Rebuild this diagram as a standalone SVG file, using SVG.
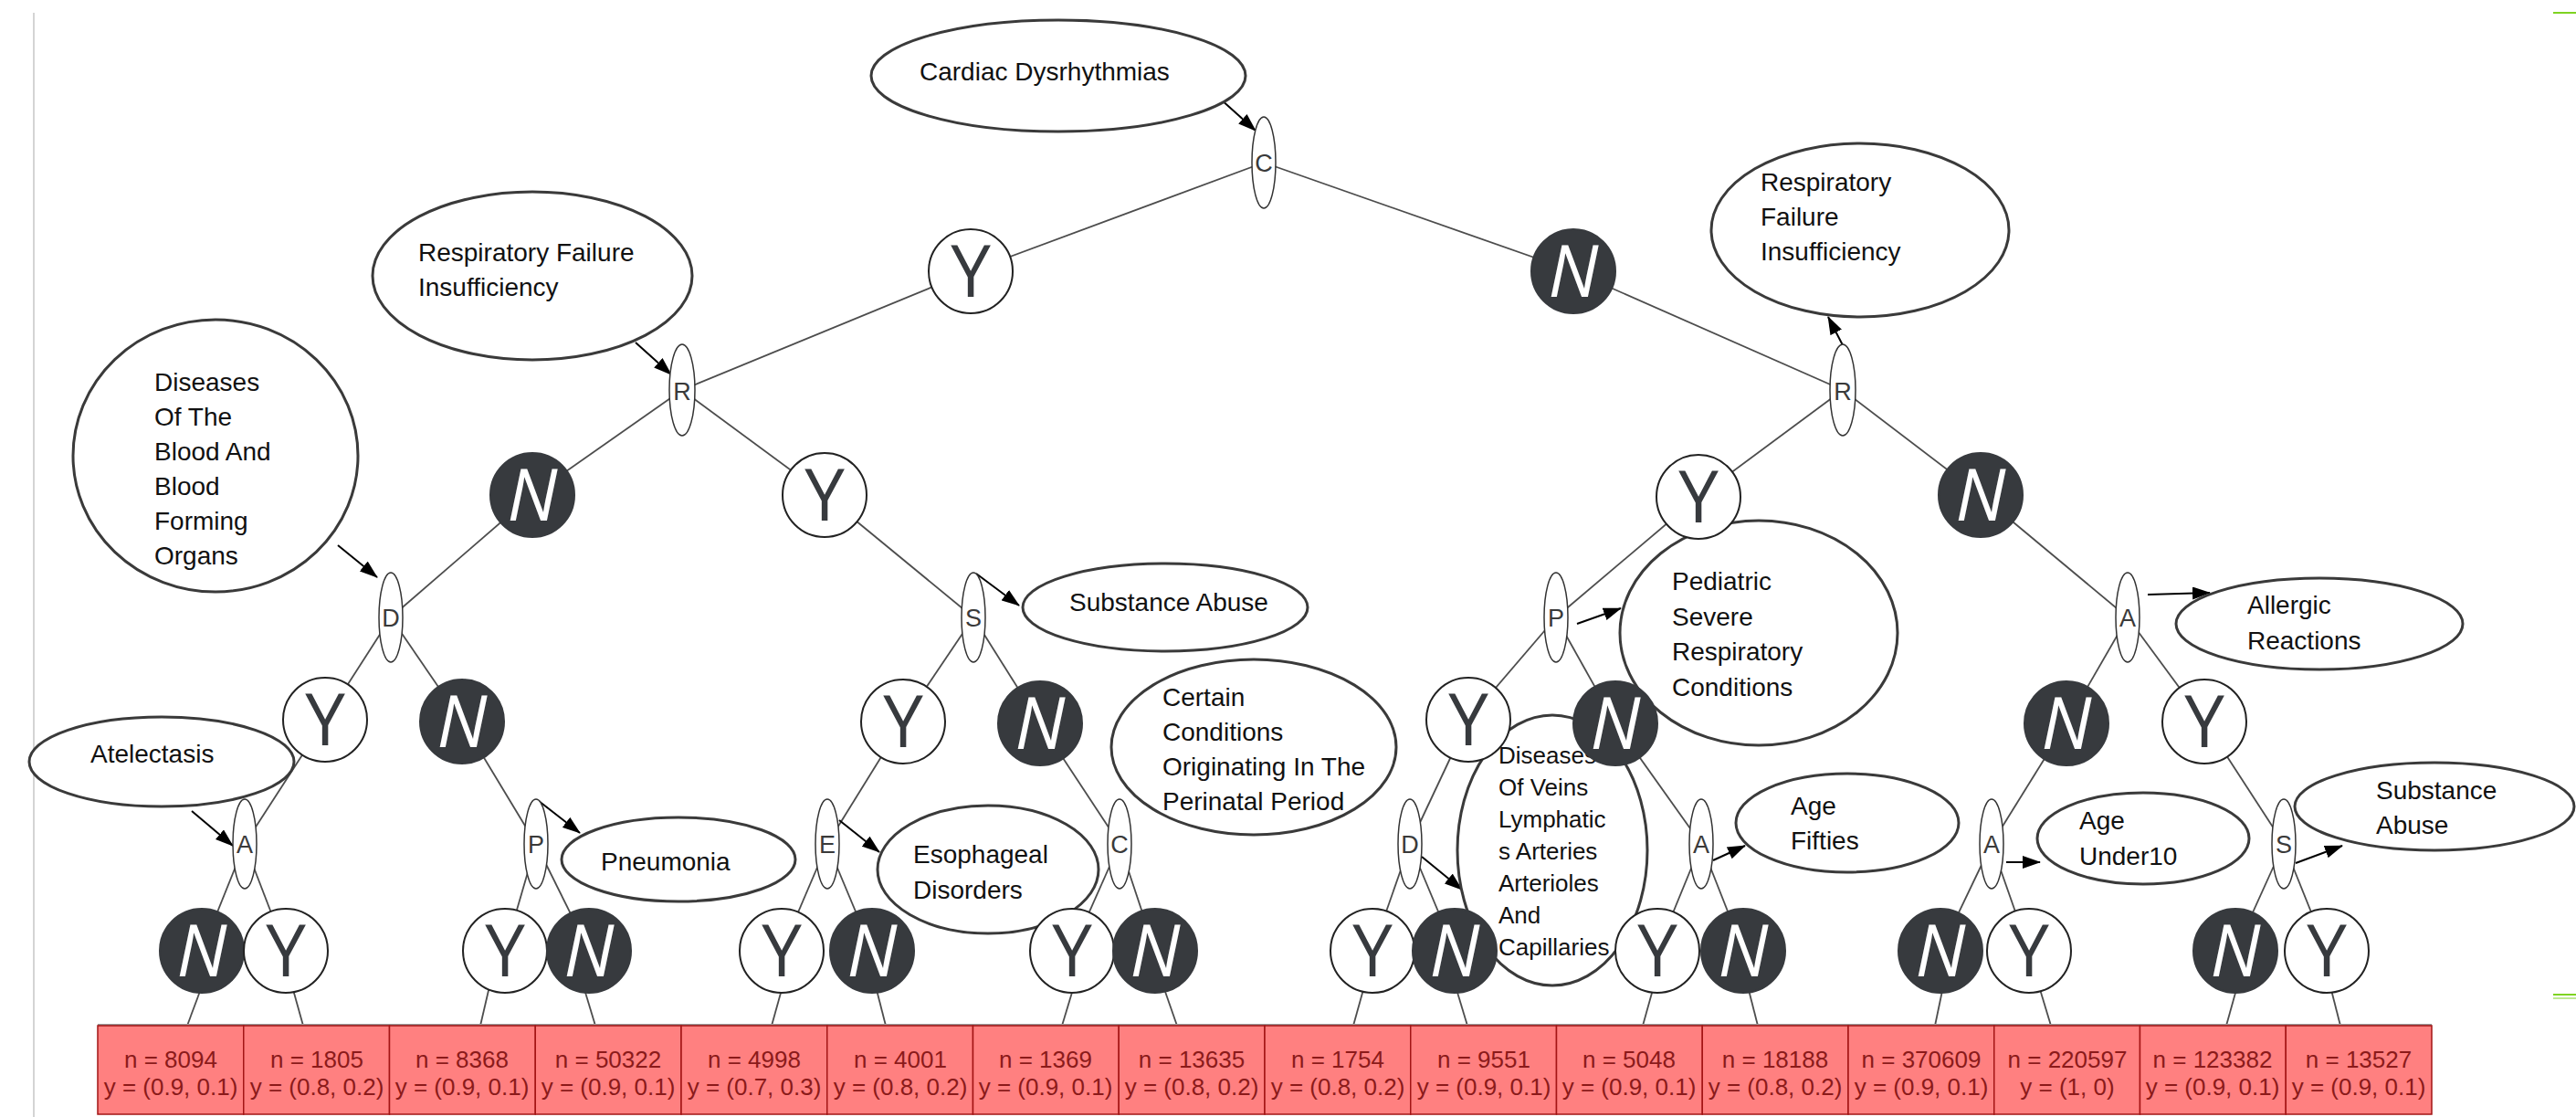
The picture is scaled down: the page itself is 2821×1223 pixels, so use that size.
<svg xmlns="http://www.w3.org/2000/svg" width="2821" height="1223" viewBox="0 0 2821 1223">
<style>
.ann{fill:#fff;stroke:#3a3a3a;stroke-width:3}
.t{font-family:"Liberation Sans",Arial,sans-serif;font-size:28px;fill:#111}
.t26{font-size:26px}
.dec{fill:#fff;stroke:#333;stroke-width:1.5}
.dl{font-family:"Liberation Sans",Arial,sans-serif;font-size:27px;fill:#3a3a3a;text-anchor:middle}
.yc{fill:#fff;stroke:#222;stroke-width:2}
.nc{fill:#373a3e;stroke:#373a3e;stroke-width:2}
.yl{font-family:"Open Sans","Liberation Sans",sans-serif;font-weight:400;font-size:78px;fill:#373a3e;text-anchor:middle}
.nl{font-family:"Open Sans","Liberation Sans",sans-serif;font-weight:400;font-size:78px;fill:#fff;font-style:italic;text-anchor:middle}
.edge{stroke:#4d4d4d;stroke-width:1.8;fill:none}
.arr{stroke:#000;stroke-width:2;fill:none;marker-end:url(#ah)}
.box{fill:#ff8080;stroke:#a31515;stroke-width:1.5}
.bt{font-family:"Liberation Sans",Arial,sans-serif;font-size:26px;fill:#8b1a1a;text-anchor:middle}
</style>
<defs>
<marker id="ah" markerUnits="userSpaceOnUse" markerWidth="20" markerHeight="14" refX="19" refY="7" orient="auto">
<path d="M0,0 L20,7 L0,14 z" fill="#000"/>
</marker>
</defs>
<rect width="2821" height="1223" fill="#fff"/>
<line x1="37" y1="14" x2="37" y2="1223" stroke="#d4d4d4" stroke-width="2"/>
<line x1="2796" y1="14" x2="2821" y2="14" stroke="#7ed321" stroke-width="2"/>
<line x1="2796" y1="1089" x2="2821" y2="1089" stroke="#7ed321" stroke-width="2"/>
<line x1="2796" y1="1093" x2="2821" y2="1093" stroke="#a8e070" stroke-width="1.5"/>

<g id="connectors">
<g class="edge">
<line x1="1384" y1="178" x2="1063" y2="297"/><line x1="1063" y1="297" x2="747" y2="427"/>
<line x1="1384" y1="178" x2="1723" y2="297"/><line x1="1723" y1="297" x2="2018" y2="427"/>
<line x1="747" y1="427" x2="583" y2="542"/><line x1="583" y1="542" x2="428" y2="676"/>
<line x1="747" y1="427" x2="903" y2="542"/><line x1="903" y1="542" x2="1066" y2="676"/>
<line x1="2018" y1="427" x2="1860" y2="544"/><line x1="1860" y1="544" x2="1704" y2="676"/>
<line x1="2018" y1="427" x2="2169" y2="542"/><line x1="2169" y1="542" x2="2330" y2="676"/>
<line x1="428" y1="676" x2="356" y2="788"/><line x1="356" y1="788" x2="268" y2="924"/>
<line x1="428" y1="676" x2="506" y2="790"/><line x1="506" y1="790" x2="587" y2="924"/>
<line x1="1066" y1="676" x2="989" y2="790"/><line x1="989" y1="790" x2="906" y2="924"/>
<line x1="1066" y1="676" x2="1139" y2="792"/><line x1="1139" y1="792" x2="1226" y2="924"/>
<line x1="1704" y1="676" x2="1608" y2="788"/><line x1="1608" y1="788" x2="1544" y2="924"/>
<line x1="1704" y1="676" x2="1769" y2="792"/><line x1="1769" y1="792" x2="1863" y2="924"/>
<line x1="2330" y1="676" x2="2263" y2="792"/><line x1="2263" y1="792" x2="2181" y2="924"/>
<line x1="2330" y1="676" x2="2414" y2="790"/><line x1="2414" y1="790" x2="2501" y2="924"/>
<line x1="268" y1="924" x2="221" y2="1041"/><line x1="268" y1="924" x2="313" y2="1041"/>
<line x1="587" y1="924" x2="553" y2="1041"/><line x1="587" y1="924" x2="645" y2="1041"/>
<line x1="906" y1="924" x2="856" y2="1041"/><line x1="906" y1="924" x2="955" y2="1041"/>
<line x1="1226" y1="924" x2="1174" y2="1041"/><line x1="1226" y1="924" x2="1265" y2="1041"/>
<line x1="1544" y1="924" x2="1503" y2="1041"/><line x1="1544" y1="924" x2="1593" y2="1041"/>
<line x1="1863" y1="924" x2="1815" y2="1041"/><line x1="1863" y1="924" x2="1909" y2="1041"/>
<line x1="2181" y1="924" x2="2125" y2="1041"/><line x1="2181" y1="924" x2="2222" y2="1041"/>
<line x1="2501" y1="924" x2="2448" y2="1041"/><line x1="2501" y1="924" x2="2548" y2="1041"/>
<line x1="221" y1="1080" x2="205" y2="1123"/><line x1="320" y1="1080" x2="332" y2="1123"/>
<line x1="536" y1="1080" x2="526" y2="1123"/><line x1="639" y1="1080" x2="652" y2="1123"/>
<line x1="857" y1="1080" x2="845" y2="1123"/><line x1="959" y1="1080" x2="970" y2="1123"/>
<line x1="1176" y1="1080" x2="1163" y2="1123"/><line x1="1274" y1="1080" x2="1289" y2="1123"/>
<line x1="1494" y1="1080" x2="1482" y2="1123"/><line x1="1594" y1="1080" x2="1607" y2="1123"/>
<line x1="1811" y1="1080" x2="1799" y2="1123"/><line x1="1914" y1="1080" x2="1925" y2="1123"/>
<line x1="2128" y1="1080" x2="2119" y2="1123"/><line x1="2233" y1="1080" x2="2246" y2="1123"/>
<line x1="2450" y1="1080" x2="2438" y2="1123"/><line x1="2552" y1="1080" x2="2563" y2="1123"/>
</g>
<g class="arr">
<line x1="1336" y1="108" x2="1375" y2="143"/>
<line x1="696" y1="375" x2="735" y2="410"/>
<line x1="2018" y1="378" x2="2002" y2="347"/>
<line x1="370" y1="597" x2="413" y2="632"/>
<line x1="1069" y1="628" x2="1116" y2="663"/>
<line x1="1727" y1="683" x2="1775" y2="666"/>
<line x1="2352" y1="651" x2="2420" y2="649"/>
<line x1="210" y1="888" x2="255" y2="926"/>
<line x1="590" y1="877" x2="635" y2="912"/>
<line x1="919" y1="898" x2="963" y2="933"/>
<line x1="1557" y1="938" x2="1601" y2="974"/>
<line x1="1876" y1="942" x2="1911" y2="926"/>
<line x1="2197" y1="944" x2="2234" y2="944"/>
<line x1="2514" y1="945" x2="2565" y2="926"/>
</g>
</g>

<g id="annotations">
<g id="ann_cardiac"><ellipse class="ann" cx="1159" cy="83" rx="205" ry="61"/><text class="t" x="1007" y="88">Cardiac Dysrhythmias</text></g>
<g id="ann_resp_left"><ellipse class="ann" cx="583" cy="302" rx="175" ry="92"/><text class="t" x="458" y="286">Respiratory Failure<tspan x="458" dy="38">Insufficiency</tspan></text></g>
<g id="ann_resp_right"><ellipse class="ann" cx="2037" cy="252" rx="163" ry="95"/><text class="t" x="1928" y="209">Respiratory<tspan x="1928" dy="38">Failure</tspan><tspan x="1928" dy="38">Insufficiency</tspan></text></g>
<g id="ann_blood"><ellipse class="ann" cx="236" cy="499" rx="156" ry="149"/><text class="t" x="169" y="428">Diseases<tspan x="169" dy="38">Of The</tspan><tspan x="169" dy="38">Blood And</tspan><tspan x="169" dy="38">Blood</tspan><tspan x="169" dy="38">Forming</tspan><tspan x="169" dy="38">Organs</tspan></text></g>
<g id="ann_substance_left"><ellipse class="ann" cx="1276" cy="665" rx="156" ry="48"/><text class="t" x="1171" y="669">Substance Abuse</text></g>
<g id="ann_pediatric"><ellipse class="ann" cx="1926" cy="693" rx="152" ry="123"/><text class="t" x="1831" y="646">Pediatric<tspan x="1831" dy="38.5">Severe</tspan><tspan x="1831" dy="38.5">Respiratory</tspan><tspan x="1831" dy="38.5">Conditions</tspan></text></g>
<g id="ann_allergic"><ellipse class="ann" cx="2540" cy="683" rx="157" ry="50"/><text class="t" x="2461" y="672">Allergic<tspan x="2461" dy="39">Reactions</tspan></text></g>
<g id="ann_atelectasis"><ellipse class="ann" cx="177" cy="834" rx="145" ry="49"/><text class="t" x="99" y="835">Atelectasis</text></g>
<g id="ann_pneumonia"><ellipse class="ann" cx="743" cy="941" rx="128" ry="46"/><text class="t" x="658" y="953">Pneumonia</text></g>
<g id="ann_esophageal"><ellipse class="ann" cx="1082" cy="952" rx="121" ry="70"/><text class="t" x="1000" y="945">Esophageal<tspan x="1000" dy="39">Disorders</tspan></text></g>
<g id="ann_perinatal"><ellipse class="ann" cx="1373" cy="818" rx="156" ry="96"/><text class="t" x="1273" y="773">Certain<tspan x="1273" dy="38">Conditions</tspan><tspan x="1273" dy="38">Originating In The</tspan><tspan x="1273" dy="38">Perinatal Period</tspan></text></g>
<g id="ann_veins"><ellipse class="ann" cx="1700" cy="931" rx="104" ry="148"/><text class="t t26" x="1641" y="836">Diseases<tspan x="1641" dy="35">Of Veins</tspan><tspan x="1641" dy="35">Lymphatic</tspan><tspan x="1641" dy="35">s Arteries</tspan><tspan x="1641" dy="35">Arterioles</tspan><tspan x="1641" dy="35">And</tspan><tspan x="1641" dy="35">Capillaries</tspan></text></g>
<g id="ann_fifties"><ellipse class="ann" cx="2023" cy="901" rx="122" ry="54"/><text class="t" x="1961" y="892">Age<tspan x="1961" dy="38">Fifties</tspan></text></g>
<g id="ann_under10"><ellipse class="ann" cx="2347" cy="918" rx="116" ry="50"/><text class="t" x="2277" y="908">Age<tspan x="2277" dy="39">Under10</tspan></text></g>
<g id="ann_substance_right"><ellipse class="ann" cx="2666" cy="883" rx="153" ry="48"/><text class="t" x="2602" y="875">Substance<tspan x="2602" dy="38">Abuse</tspan></text></g>
</g>

<g id="decisions">
<g id="dec_C"><ellipse class="dec" cx="1384" cy="178" rx="13" ry="50"/><text class="dl" x="1384" y="188">C</text></g>
<g id="dec_R1"><ellipse class="dec" cx="747" cy="427" rx="14" ry="50"/><text class="dl" x="747" y="438">R</text></g>
<g id="dec_R2"><ellipse class="dec" cx="2018" cy="427" rx="14" ry="50"/><text class="dl" x="2018" y="438">R</text></g>
<g id="dec_D1"><ellipse class="dec" cx="428" cy="676" rx="13" ry="49"/><text class="dl" x="428" y="686">D</text></g>
<g id="dec_S1"><ellipse class="dec" cx="1066" cy="676" rx="13" ry="49"/><text class="dl" x="1066" y="686">S</text></g>
<g id="dec_P1"><ellipse class="dec" cx="1704" cy="676" rx="13" ry="49"/><text class="dl" x="1704" y="686">P</text></g>
<g id="dec_A1"><ellipse class="dec" cx="2330" cy="676" rx="13" ry="49"/><text class="dl" x="2330" y="686">A</text></g>
<g id="dec_A2"><ellipse class="dec" cx="268" cy="924" rx="13" ry="49"/><text class="dl" x="268" y="934">A</text></g>
<g id="dec_P2"><ellipse class="dec" cx="587" cy="924" rx="13" ry="49"/><text class="dl" x="587" y="934">P</text></g>
<g id="dec_E"><ellipse class="dec" cx="906" cy="924" rx="13" ry="49"/><text class="dl" x="906" y="934">E</text></g>
<g id="dec_C2"><ellipse class="dec" cx="1226" cy="924" rx="13" ry="49"/><text class="dl" x="1226" y="934">C</text></g>
<g id="dec_D2"><ellipse class="dec" cx="1544" cy="924" rx="13" ry="49"/><text class="dl" x="1544" y="934">D</text></g>
<g id="dec_A3"><ellipse class="dec" cx="1863" cy="924" rx="13" ry="49"/><text class="dl" x="1863" y="934">A</text></g>
<g id="dec_A4"><ellipse class="dec" cx="2181" cy="924" rx="13" ry="49"/><text class="dl" x="2181" y="934">A</text></g>
<g id="dec_S2"><ellipse class="dec" cx="2501" cy="924" rx="13" ry="49"/><text class="dl" x="2501" y="934">S</text></g>
</g>

<g id="branches">
<g id="br1"><circle class="yc" cx="1063" cy="297" r="46"/><text class="yl" x="1063" y="325">Y</text></g>
<g id="br2"><circle class="nc" cx="1723" cy="297" r="46"/><text class="nl" x="1723" y="325">N</text></g>
<g id="br3"><circle class="nc" cx="583" cy="542" r="46"/><text class="nl" x="583" y="570">N</text></g>
<g id="br4"><circle class="yc" cx="903" cy="542" r="46"/><text class="yl" x="903" y="570">Y</text></g>
<g id="br5"><circle class="yc" cx="1860" cy="544" r="46"/><text class="yl" x="1860" y="572">Y</text></g>
<g id="br6"><circle class="nc" cx="2169" cy="542" r="46"/><text class="nl" x="2169" y="570">N</text></g>
<g id="br7"><circle class="yc" cx="356" cy="788" r="46"/><text class="yl" x="356" y="816">Y</text></g>
<g id="br8"><circle class="nc" cx="506" cy="790" r="46"/><text class="nl" x="506" y="818">N</text></g>
<g id="br9"><circle class="yc" cx="989" cy="790" r="46"/><text class="yl" x="989" y="818">Y</text></g>
<g id="br10"><circle class="nc" cx="1139" cy="792" r="46"/><text class="nl" x="1139" y="820">N</text></g>
<g id="br11"><circle class="yc" cx="1608" cy="788" r="46"/><text class="yl" x="1608" y="816">Y</text></g>
<g id="br12"><circle class="nc" cx="1769" cy="792" r="46"/><text class="nl" x="1769" y="820">N</text></g>
<g id="br13"><circle class="nc" cx="2263" cy="792" r="46"/><text class="nl" x="2263" y="820">N</text></g>
<g id="br14"><circle class="yc" cx="2414" cy="790" r="46"/><text class="yl" x="2414" y="818">Y</text></g>
<g id="lf1"><circle class="nc" cx="221" cy="1041" r="46"/><text class="nl" x="221" y="1069">N</text></g>
<g id="lf2"><circle class="yc" cx="313" cy="1041" r="46"/><text class="yl" x="313" y="1069">Y</text></g>
<g id="lf3"><circle class="yc" cx="553" cy="1041" r="46"/><text class="yl" x="553" y="1069">Y</text></g>
<g id="lf4"><circle class="nc" cx="645" cy="1041" r="46"/><text class="nl" x="645" y="1069">N</text></g>
<g id="lf5"><circle class="yc" cx="856" cy="1041" r="46"/><text class="yl" x="856" y="1069">Y</text></g>
<g id="lf6"><circle class="nc" cx="955" cy="1041" r="46"/><text class="nl" x="955" y="1069">N</text></g>
<g id="lf7"><circle class="yc" cx="1174" cy="1041" r="46"/><text class="yl" x="1174" y="1069">Y</text></g>
<g id="lf8"><circle class="nc" cx="1265" cy="1041" r="46"/><text class="nl" x="1265" y="1069">N</text></g>
<g id="lf9"><circle class="yc" cx="1503" cy="1041" r="46"/><text class="yl" x="1503" y="1069">Y</text></g>
<g id="lf10"><circle class="nc" cx="1593" cy="1041" r="46"/><text class="nl" x="1593" y="1069">N</text></g>
<g id="lf11"><circle class="yc" cx="1815" cy="1041" r="46"/><text class="yl" x="1815" y="1069">Y</text></g>
<g id="lf12"><circle class="nc" cx="1909" cy="1041" r="46"/><text class="nl" x="1909" y="1069">N</text></g>
<g id="lf13"><circle class="nc" cx="2125" cy="1041" r="46"/><text class="nl" x="2125" y="1069">N</text></g>
<g id="lf14"><circle class="yc" cx="2222" cy="1041" r="46"/><text class="yl" x="2222" y="1069">Y</text></g>
<g id="lf15"><circle class="nc" cx="2448" cy="1041" r="46"/><text class="nl" x="2448" y="1069">N</text></g>
<g id="lf16"><circle class="yc" cx="2548" cy="1041" r="46"/><text class="yl" x="2548" y="1069">Y</text></g>
</g>

<g id="leaves">
<line x1="107" y1="1122" x2="2663" y2="1122" stroke="#999" stroke-width="2"/>
<g id="box1"><rect class="box" x="107" y="1123" width="159.75" height="97"/><text class="bt" x="187" y="1169">n = 8094</text><text class="bt" x="187" y="1199">y = (0.9, 0.1)</text></g>
<g id="box2"><rect class="box" x="266.75" y="1123" width="159.75" height="97"/><text class="bt" x="347" y="1169">n = 1805</text><text class="bt" x="347" y="1199">y = (0.8, 0.2)</text></g>
<g id="box3"><rect class="box" x="426.5" y="1123" width="159.75" height="97"/><text class="bt" x="506" y="1169">n = 8368</text><text class="bt" x="506" y="1199">y = (0.9, 0.1)</text></g>
<g id="box4"><rect class="box" x="586.25" y="1123" width="159.75" height="97"/><text class="bt" x="666" y="1169">n = 50322</text><text class="bt" x="666" y="1199">y = (0.9, 0.1)</text></g>
<g id="box5"><rect class="box" x="746" y="1123" width="159.75" height="97"/><text class="bt" x="826" y="1169">n = 4998</text><text class="bt" x="826" y="1199">y = (0.7, 0.3)</text></g>
<g id="box6"><rect class="box" x="905.75" y="1123" width="159.75" height="97"/><text class="bt" x="986" y="1169">n = 4001</text><text class="bt" x="986" y="1199">y = (0.8, 0.2)</text></g>
<g id="box7"><rect class="box" x="1065.5" y="1123" width="159.75" height="97"/><text class="bt" x="1145" y="1169">n = 1369</text><text class="bt" x="1145" y="1199">y = (0.9, 0.1)</text></g>
<g id="box8"><rect class="box" x="1225.25" y="1123" width="159.75" height="97"/><text class="bt" x="1305" y="1169">n = 13635</text><text class="bt" x="1305" y="1199">y = (0.8, 0.2)</text></g>
<g id="box9"><rect class="box" x="1385" y="1123" width="159.75" height="97"/><text class="bt" x="1465" y="1169">n = 1754</text><text class="bt" x="1465" y="1199">y = (0.8, 0.2)</text></g>
<g id="box10"><rect class="box" x="1544.75" y="1123" width="159.75" height="97"/><text class="bt" x="1625" y="1169">n = 9551</text><text class="bt" x="1625" y="1199">y = (0.9, 0.1)</text></g>
<g id="box11"><rect class="box" x="1704.5" y="1123" width="159.75" height="97"/><text class="bt" x="1784" y="1169">n = 5048</text><text class="bt" x="1784" y="1199">y = (0.9, 0.1)</text></g>
<g id="box12"><rect class="box" x="1864.25" y="1123" width="159.75" height="97"/><text class="bt" x="1944" y="1169">n = 18188</text><text class="bt" x="1944" y="1199">y = (0.8, 0.2)</text></g>
<g id="box13"><rect class="box" x="2024" y="1123" width="159.75" height="97"/><text class="bt" x="2104" y="1169">n = 370609</text><text class="bt" x="2104" y="1199">y = (0.9, 0.1)</text></g>
<g id="box14"><rect class="box" x="2183.75" y="1123" width="159.75" height="97"/><text class="bt" x="2264" y="1169">n = 220597</text><text class="bt" x="2264" y="1199">y = (1, 0)</text></g>
<g id="box15"><rect class="box" x="2343.5" y="1123" width="159.75" height="97"/><text class="bt" x="2423" y="1169">n = 123382</text><text class="bt" x="2423" y="1199">y = (0.9, 0.1)</text></g>
<g id="box16"><rect class="box" x="2503.25" y="1123" width="159.75" height="97"/><text class="bt" x="2583" y="1169">n = 13527</text><text class="bt" x="2583" y="1199">y = (0.9, 0.1)</text></g>
</g>
</svg>
